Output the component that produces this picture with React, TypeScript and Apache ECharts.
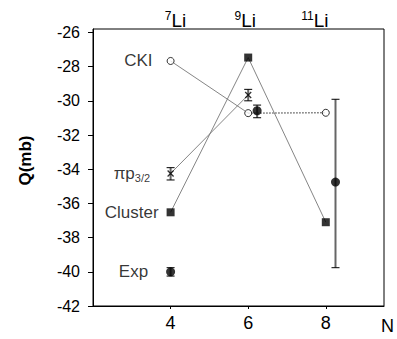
import React, { useEffect, useRef } from "react";
import * as echarts from "echarts";

// Calculated values (N = 4, 6, 8 for 7Li, 9Li, 11Li)
const nCalc = [4, 6, 8];
const isotopes = ["7", "9", "11"];
const ckiValues = [-27.67, -30.72, -30.7];
const clusterValues = [-36.52, -27.47, -37.1];
const piN = [4, 6];
const piValues = [-34.25, -29.66];
const piLow = [-34.63, -30.0];
const piHigh = [-33.91, -29.33];
// Experimental values (drawn slightly offset in N)
const expN = [4, 6.23, 8.25];
const expValues = [-40.0, -30.58, -34.75];
const expLow = [-40.25, -30.99, -39.76];
const expHigh = [-39.76, -30.25, -29.91];
const yTicks = [-42, -40, -38, -36, -34, -32, -30, -28, -26];

const FONT = "'Liberation Sans', Arial, Helvetica, sans-serif";

const pairs = (xs: number[], ys: number[]) => xs.map((x, i) => [x, ys[i]]);
const triples = (xs: number[], lo: number[], hi: number[]) =>
  xs.map((x, i) => [x, lo[i], hi[i]]);

const errorBarRender = (params: any, api: any) => {
  const x = api.value(0);
  const lo = api.coord([x, api.value(1)]);
  const hi = api.coord([x, api.value(2)]);
  const cap = 4;
  return {
    type: "group",
    children: [
      {
        type: "line",
        shape: { x1: lo[0], y1: lo[1], x2: hi[0], y2: hi[1] },
        style: { stroke: "#666", lineWidth: 2 },
      },
      {
        type: "line",
        shape: { x1: lo[0] - cap, y1: lo[1], x2: lo[0] + cap, y2: lo[1] },
        style: { stroke: "#000", lineWidth: 1 },
      },
      {
        type: "line",
        shape: { x1: hi[0] - cap, y1: hi[1], x2: hi[0] + cap, y2: hi[1] },
        style: { stroke: "#000", lineWidth: 1 },
      },
    ],
  };
};

const firstLabel = (text: string) => (p: any) => (p.dataIndex === 0 ? text : "");

// Layout: spacer tokens that nudge each isotope header off its tick
const headerTemplates = [
  (m: string) => `{gL10| }{sup|${m}}{base|Li}`,
  (m: string) => `{sup|${m}}{base|Li}{gR6| }`,
  (m: string) => `{sup|${m}}{base|Li}{gR22| }`,
];

export default function App() {
  const ref = useRef<HTMLDivElement>(null);
  useEffect(() => {
    if (!ref.current) return;
    const chart = echarts.init(ref.current, undefined, { renderer: "svg" });
    const thinLine = { color: "#777", width: 0.9 };
    const labelBase = { show: true, position: "left", color: "#000", fontSize: 17, fontFamily: FONT };
    chart.setOption({
      animation: false,
      textStyle: { fontFamily: FONT },
      grid: {
        left: 93,
        right: 11,
        top: 29,
        bottom: 33,
        show: true,
        borderColor: "#000",
        borderWidth: 1,
        backgroundColor: "transparent",
      },
      xAxis: [
        {
          type: "value",
          min: 2,
          max: 9.5,
          position: "bottom",
          name: "N",
          nameLocation: "end",
          nameGap: -3,
          nameTextStyle: { fontSize: 18, color: "#000", verticalAlign: "top", padding: [11, 0, 0, 0] },
          axisLine: { lineStyle: { color: "#000", width: 1 } },
          axisTick: { show: true, length: 3, lineStyle: { color: "#000" }, customValues: nCalc },
          axisLabel: { fontSize: 18, color: "#000", margin: 8, customValues: nCalc },
          splitLine: { show: false },
        },
        {
          type: "value",
          min: 2,
          max: 9.5,
          position: "top",
          axisLine: { show: false },
          axisTick: { show: false },
          axisLabel: {
            margin: -1,
            fontSize: 19,
            color: "#000",
            customValues: nCalc,
            formatter: (v: number) => {
              const i = nCalc.indexOf(v);
              return headerTemplates[i](isotopes[i]);
            },
            rich: {
              sup: { fontSize: 12, color: "#000", verticalAlign: "top", lineHeight: 12 },
              base: { fontSize: 19, color: "#000", lineHeight: 20 },
              gL10: { width: 10, fontSize: 10, lineHeight: 10 },
              gR6: { width: 6, fontSize: 10, lineHeight: 10 },
              gR22: { width: 22, fontSize: 10, lineHeight: 10 },
            },
          },
          splitLine: { show: false },
        },
      ],
      yAxis: {
        type: "value",
        min: -42,
        max: -25.8,
        interval: 2,
        name: "Q(mb)",
        nameLocation: "middle",
        nameRotate: 90,
        nameGap: 59,
        nameTextStyle: { fontSize: 17, fontWeight: "bold", color: "#000", padding: [0, 0, 0, 14] },
        axisLine: { lineStyle: { color: "#000", width: 1 } },
        axisTick: { show: true, length: 5, lineStyle: { color: "#000" }, customValues: yTicks },
        axisLabel: { fontSize: 16, color: "#000", margin: 13, customValues: yTicks },
        splitLine: { show: false },
      },
      series: [
        {
          type: "line",
          data: pairs(nCalc.slice(0, 2), ckiValues.slice(0, 2)),
          symbol: "none",
          lineStyle: thinLine,
          z: 1,
        },
        {
          type: "line",
          data: pairs(nCalc.slice(1), ckiValues.slice(1)),
          symbol: "none",
          lineStyle: { color: "#222", width: 1, type: [1.5, 1.5] },
          z: 1,
        },
        {
          type: "line",
          data: pairs(nCalc, clusterValues),
          symbol: "none",
          lineStyle: thinLine,
          z: 1,
        },
        {
          type: "line",
          data: pairs(piN, piValues),
          symbol: "none",
          lineStyle: thinLine,
          z: 1,
        },
        {
          type: "custom",
          renderItem: errorBarRender,
          data: triples(expN, expLow, expHigh),
          z: 2,
        },
        {
          type: "custom",
          renderItem: errorBarRender,
          data: triples(piN, piLow, piHigh),
          z: 2,
        },
        {
          type: "scatter",
          name: "CKI",
          data: pairs(nCalc, ckiValues),
          symbol: "circle",
          symbolSize: 7,
          itemStyle: { color: "#fff", borderColor: "#000", borderWidth: 1 },
          label: { ...labelBase, distance: 14, formatter: firstLabel("CKI") },
          z: 3,
        },
        {
          type: "scatter",
          name: "Cluster",
          data: pairs(nCalc, clusterValues),
          symbol: "rect",
          symbolSize: 8,
          itemStyle: { color: "#000" },
          label: { ...labelBase, distance: 8, formatter: firstLabel("Cluster") },
          z: 3,
        },
        {
          type: "scatter",
          name: "πp3/2",
          data: pairs(piN, piValues),
          symbol: "path://M0,0L10,10M10,0L0,10",
          symbolSize: 6,
          itemStyle: { color: "none", borderColor: "#000", borderWidth: 1.3 },
          label: {
            ...labelBase,
            distance: 15,
            formatter: (p: any) => (p.dataIndex === 0 ? "{a|πp}{sub|3/2}" : ""),
            rich: {
              a: { fontSize: 17, color: "#000", lineHeight: 20 },
              sub: { fontSize: 11, color: "#000", verticalAlign: "bottom", lineHeight: 11 },
            },
          },
          z: 3,
        },
        {
          type: "scatter",
          name: "Exp",
          data: pairs(expN, expValues),
          symbol: "circle",
          symbolSize: 9,
          itemStyle: { color: "#000" },
          label: { ...labelBase, distance: 18, formatter: firstLabel("Exp") },
          z: 3,
        },
      ],
    });
    return () => chart.dispose();
  }, []);
  return (
    <div
      ref={ref}
      style={{ position: "absolute", left: 0, top: 0, width: 397, height: 339, background: "#fff" }}
    />
  );
}
